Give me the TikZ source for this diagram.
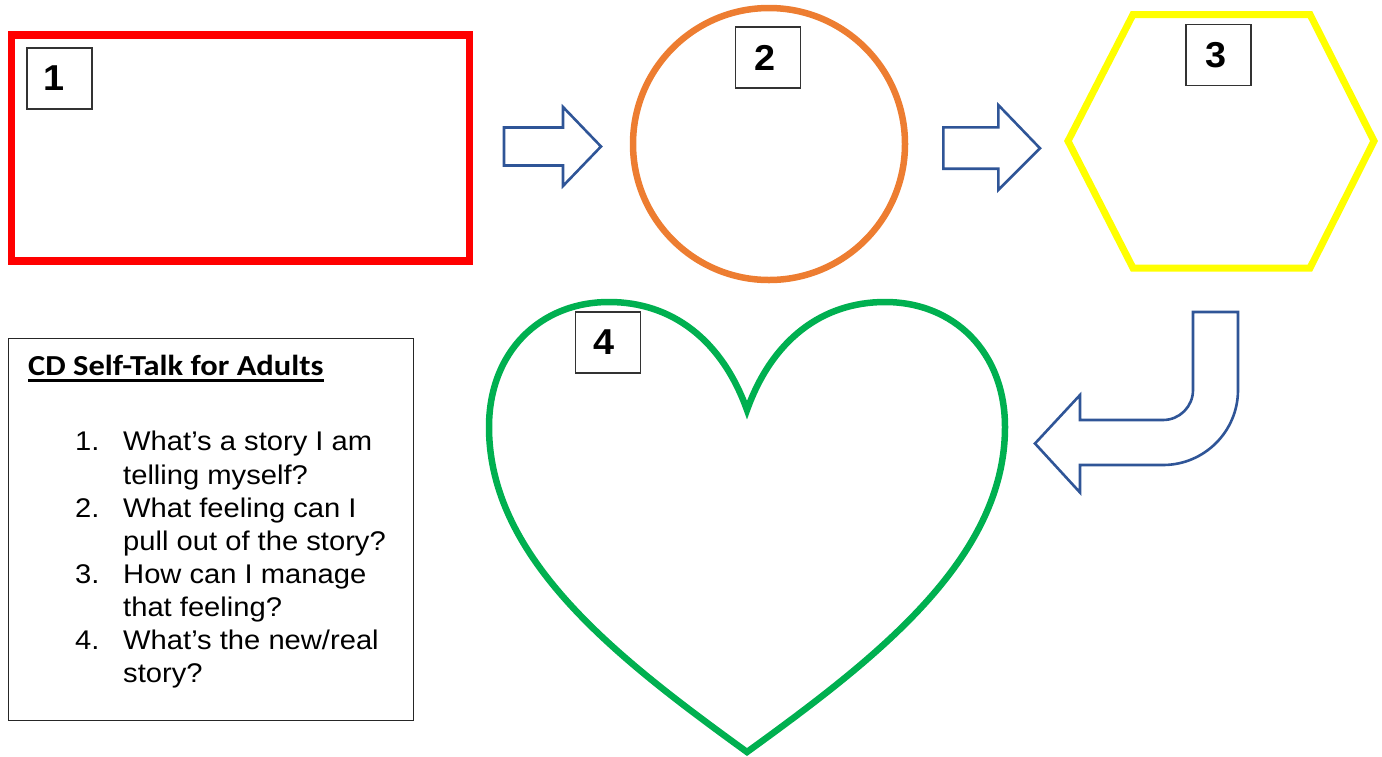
\documentclass[tikz,border=0pt]{standalone}
\usepackage{fontspec}
\setmainfont{Liberation Sans}
\newfontfamily\calibri{Carlito}
\definecolor{arrowblue}{HTML}{2F5597}
\definecolor{shapeorange}{HTML}{ED7D31}
\definecolor{shapegreen}{HTML}{00B050}
\definecolor{shapeyellow}{HTML}{FFFF00}
\definecolor{shapered}{HTML}{FF0000}
\newcommand{\stretchtext}[1]{\scalebox{1.08}[1]{#1}}
\tikzset{
  numbox/.style={draw=black!80, line width=1.2pt, minimum width=65pt, minimum height=61pt, inner sep=0pt, fill=white},
  numtext/.style={font=\fontsize{36}{36}\selectfont\bfseries, inner sep=0pt},
  blockarrow/.style={draw=arrowblue, line width=2.6pt, line join=miter},
  listline/.style={anchor=base west, inner sep=0pt, font=\fontsize{27}{33}\selectfont},
}
\begin{document}
\begin{tikzpicture}[x=1pt,y=-1pt]
\useasboundingbox (0,0) rectangle (1382,756);
% shape 1: red rectangle
\draw[shapered, line width=7.5pt] (11.5,35) rectangle (469.5,261);
\node[numbox] (b1) at (59.5,78.5) {};
\node[numtext] (t1) at ([xshift=-5pt]b1.center) {\scalebox{1.05}[1]{1}};
% arrow 1
\draw[blockarrow] (504,127.5) -- (563,127.5) -- (563,107) -- (601,146.5) -- (563,186) -- (563,165.5) -- (504,165.5) -- cycle;
% shape 2: orange circle
\draw[shapeorange, line width=6.5pt] (769,144) circle[radius=136];
\node[numbox] (b2) at (768,57.5) {};
\node[numtext] (t2) at ([xshift=-3pt]b2.center) {\scalebox{1.05}[1]{2}};
% arrow 2
\draw[blockarrow] (943.3,127.3) -- (998.3,127.3) -- (998.3,105) -- (1040,148.3) -- (998.3,190) -- (998.3,168.7) -- (943.3,168.7) -- cycle;
% shape 3: yellow hexagon
\draw[shapeyellow, line width=7pt, line join=miter] (1133,14.5) -- (1310,14.5) -- (1374,141) -- (1310,268) -- (1133,268) -- (1068,141) -- cycle;
\node[numbox] (b3) at (1218.5,55) {};
\node[numtext] (t3) at ([xshift=-3pt]b3.center) {\scalebox{1.05}[1]{3}};
% bent arrow
\draw[blockarrow] (1193,312) -- (1238,312) -- (1238,390)
  .. controls (1238,431.4) and (1204.4,465) .. (1163,465)
  -- (1080,465) -- (1080,492.5) -- (1035,443.5) -- (1080,395) -- (1080,420) -- (1163,420)
  .. controls (1179.6,420) and (1193,406.6) .. (1193,390) -- cycle;
% shape 4: green heart
\draw[shapegreen, line width=6.5pt, line join=miter]
  (747,410) .. controls (722,340) and (672,302) .. (609,302)
  .. controls (540,302) and (489,352) .. (489,427)
  .. controls (489,560) and (620,660) .. (747,752)
  .. controls (874,660) and (1005,560) .. (1005,427)
  .. controls (1005,352) and (954,302) .. (885,302)
  .. controls (822,302) and (772,340) .. (747,410) -- cycle;
\node[numbox] (b4) at (608.3,342.5) {};
\node[numtext] (t4) at ([xshift=-4pt]b4.center) {\scalebox{1.05}[1]{4}};
% text box
\node[draw=black!85, line width=1.2pt, minimum width=405pt, minimum height=382pt, inner sep=0pt, anchor=north west] (tb) at (8,338) {};
\node[anchor=base west, inner sep=0pt, font=\calibri\bfseries\fontsize{29}{30}\selectfont] (title) at (28,375) {\scalebox{1.12}[1]{CD Self-Talk for Adults}};
\draw[line width=2.2pt] ([yshift=-5.5pt]title.base west) -- ([yshift=-5.5pt]title.base east);
\node[listline] (n1) at (75,450.7) {\stretchtext{1.}};
\node[listline] (l1a) at (123,450.7) {\stretchtext{What’s a story I am}};
\node[listline] (l1b) at (123,484) {\stretchtext{telling myself?}};
\node[listline] (n2) at (75,517) {\stretchtext{2.}};
\node[listline] (l2a) at (123,517) {\stretchtext{What feeling can I}};
\node[listline] (l2b) at (123,550) {\stretchtext{pull out of the story?}};
\node[listline] (n3) at (75,583) {\stretchtext{3.}};
\node[listline] (l3a) at (123,583) {\stretchtext{How can I manage}};
\node[listline] (l3b) at (123,616.5) {\stretchtext{that feeling?}};
\node[listline] (n4) at (75,649.5) {\stretchtext{4.}};
\node[listline] (l4a) at (123,649.5) {\stretchtext{What’s the new/real}};
\node[listline] (l4b) at (123,682.7) {\stretchtext{story?}};
\end{tikzpicture}
\end{document}
